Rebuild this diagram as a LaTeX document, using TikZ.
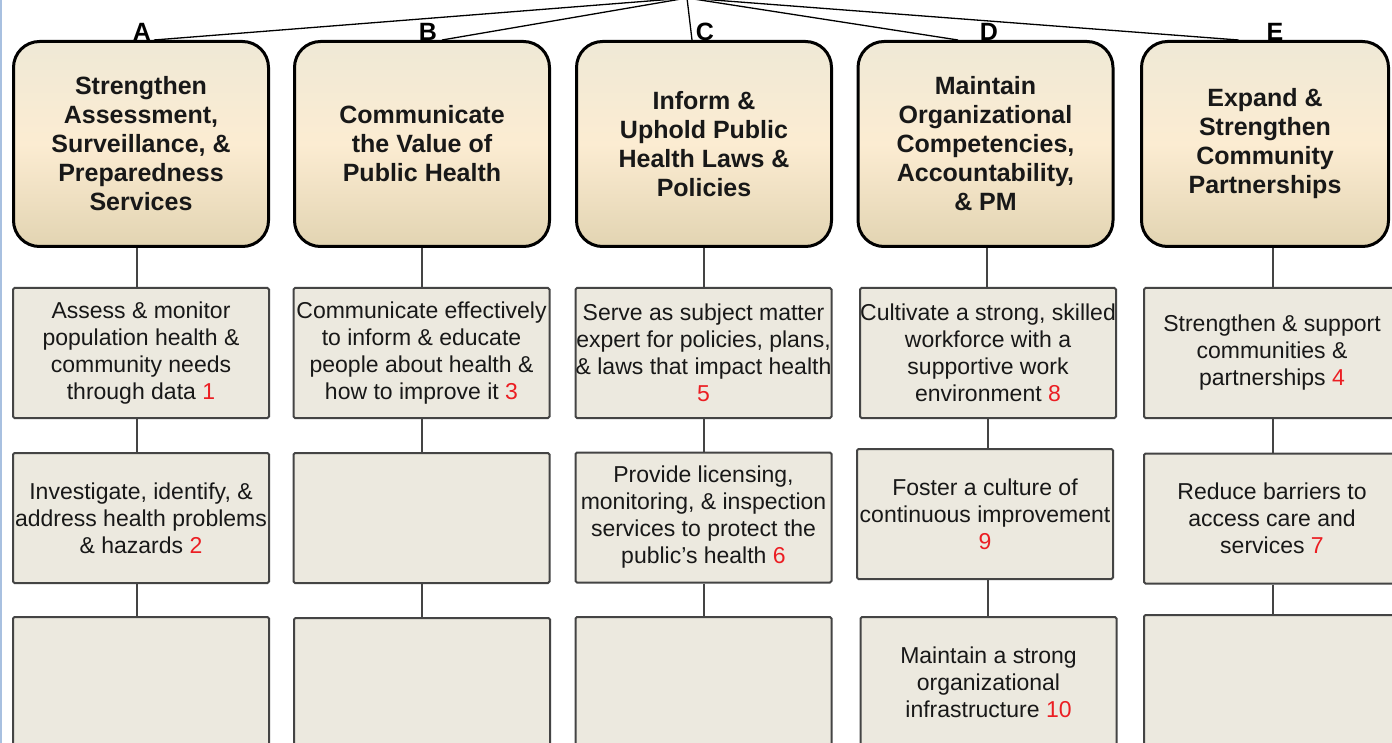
\documentclass[tikz,border=0pt]{standalone}
\usepackage{fontspec}
\setmainfont{Liberation Sans}
\begin{document}
\begin{tikzpicture}[x=1pt,y=-1pt]
\definecolor{hdrtop}{RGB}{239,233,214}
\definecolor{hdrmid}{RGB}{252,236,210}
\definecolor{hdrbot}{RGB}{226,212,178}
\definecolor{boxfill}{RGB}{236,233,223}
\definecolor{boxdraw}{RGB}{68,68,68}
\definecolor{numred}{RGB}{235,30,35}
\definecolor{txt}{RGB}{24,24,24}
\definecolor{edgeblue}{RGB}{168,192,224}
\tikzset{
  hdr/.style={draw=black, line width=3pt, rounded corners=26pt,
    minimum width=255pt, minimum height=205pt,
    top color=hdrtop, bottom color=hdrbot, middle color=hdrmid,
    align=center, text=txt, inner sep=0pt,
    font=\fontsize{25}{29}\selectfont\bfseries},
  cbox/.style={draw=boxdraw, fill=boxfill, line width=2pt, rounded corners=1.5pt,
    minimum width=256pt, minimum height=130pt,
    align=center, text=txt, inner sep=0pt,
    font=\fontsize{23}{27}\selectfont},
  letter/.style={font=\fontsize{25}{25}\selectfont\bfseries, text=black, inner sep=0pt, anchor=base},
  conn/.style={draw=boxdraw, line width=2pt},
  topline/.style={draw=black, line width=1.3pt},
}
\useasboundingbox (0,0) rectangle (1392,743);
\clip (0,0) rectangle (1392,743);
\fill[white] (0,0) rectangle (1392,743);
\draw[edgeblue, line width=1.5pt] (0.75,0) -- (0.75,743);

% letters
\node[letter] (lA) at (142,41) {A};
\node[letter] (lB) at (428,41) {B};
\node[letter] (lC) at (705,41) {C};
\node[letter] (lD) at (989,41) {D};
\node[letter] (lE) at (1275,41) {E};

% headers
\node[hdr] (hA) at (141,144) {Strengthen\\Assessment,\\Surveillance, \&\\Preparedness\\Services};
\node[hdr] (hB) at (422,144) {Communicate\\the Value of\\Public Health};
\node[hdr] (hC) at (704,144) {Inform \&\\Uphold Public\\Health Laws \&\\Policies};
\node[hdr] (hD) at (985.5,144) {Maintain\\Organizational\\Competencies,\\Accountability,\\\& PM};
\node[hdr, minimum width=247pt] (hE) at (1265,144) {Expand \&\\Strengthen\\Community\\Partnerships};

% root lines
\coordinate (root) at (687,-2);
\draw[topline] (root) -- ([xshift=13pt]hA.north);
\draw[topline] (root) -- ([xshift=20pt]hB.north);
\draw[topline] (root) -- ([xshift=-12pt]hC.north);
\draw[topline] (root) -- ([xshift=-27.5pt]hD.north);
\draw[topline] (root) -- ([xshift=-26.5pt]hE.north);

% content boxes row 1
\node[cbox] (a1) at (141,353) {Assess \& monitor\\population health \&\\community needs\\through data \textcolor{numred}{1}};
\node[cbox] (b1) at (421.5,353) {Communicate effectively\\to inform \& educate\\people about health \&\\how to improve it \textcolor{numred}{3}};
\node[cbox] (c1) at (703.5,353) {Serve as subject matter\\expert for policies, plans,\\\& laws that impact health\\\textcolor{numred}{5}};
\node[cbox] (d1) at (988,353) {Cultivate a strong, skilled\\workforce with a\\supportive work\\environment \textcolor{numred}{8}};
\node[cbox] (e1) at (1272,353) {Strengthen \& support\\communities \&\\partnerships \textcolor{numred}{4}};

% row 2
\node[cbox] (a2) at (141,518) {Investigate, identify, \&\\address health problems\\\& hazards \textcolor{numred}{2}};
\node[cbox] (b2) at (421.5,518) {};
\node[cbox] (c2) at (703.5,517.5) {Provide licensing,\\monitoring, \& inspection\\services to protect the\\public’s health \textcolor{numred}{6}};
\node[cbox] (d2) at (985,514) {Foster a culture of\\continuous improvement\\\textcolor{numred}{9}};
\node[cbox] (e2) at (1272,518.5) {Reduce barriers to\\access care and\\services \textcolor{numred}{7}};

% row 3
\node[cbox] (a3) at (141,682) {};
\node[cbox] (b3) at (422,683) {};
\node[cbox] (c3) at (703.5,682) {};
\node[cbox] (d3) at (988.5,682) {Maintain a strong\\organizational\\infrastructure \textcolor{numred}{10}};
\node[cbox] (e3) at (1272,680) {};

% connectors
\draw[conn] ([xshift=-4pt]hA.south) -- ([xshift=-4pt]a1.north);
\draw[conn] ([xshift=-4pt]a1.south) -- ([xshift=-4pt]a2.north);
\draw[conn] ([xshift=-4pt]a2.south) -- ([xshift=-4pt]a3.north);
\draw[conn] (hB.south) -- (hB.south |- b1.north);
\draw[conn] (b1.south) -- (b1.south |- b2.north);
\draw[conn] (b2.south) -- (b2.south |- b3.north);
\draw[conn] (hC.south) -- (hC.south |- c1.north);
\draw[conn] (c1.south) -- (c1.south |- c2.north);
\draw[conn] (c2.south) -- (c2.south |- c3.north);
\draw[conn] ([xshift=1.5pt]hD.south) -- ([xshift=1.5pt]hD.south |- d1.north);
\draw[conn] (d1.south) -- (d1.south |- d2.north);
\draw[conn] ([xshift=3pt]d2.south) -- ([xshift=3pt]d2.south |- d3.north);
\draw[conn] ([xshift=1pt]e1.south) -- ([xshift=1pt]e1.south |- e2.north);
\draw[conn] ([xshift=1pt]e2.south) -- ([xshift=1pt]e2.south |- e3.north);
\draw[conn] ([xshift=8pt]hE.south) -- ([xshift=8pt]hE.south |- e1.north);
\end{tikzpicture}
\end{document}
